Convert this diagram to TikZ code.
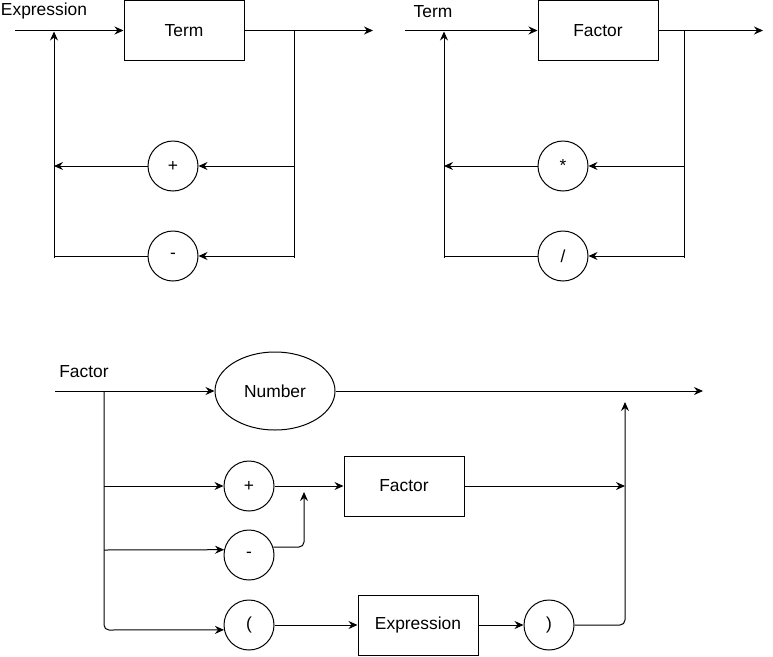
\documentclass[tikz,border=0pt]{standalone}
\usepackage{fontspec}
\setmainfont{Liberation Sans}
\usetikzlibrary{arrows.meta,shapes.geometric}
\begin{document}
\begin{tikzpicture}[x=1pt,y=-1pt,
  every node/.style={font=\fontsize{17.4}{20}\selectfont},
  box/.style={draw,line width=1pt,minimum width=120pt,minimum height=60pt,inner sep=0pt},
  term/.style={draw,circle,line width=1pt,minimum size=50pt,inner sep=0pt},
  oval/.style={draw,ellipse,line width=1pt,minimum width=120pt,minimum height=78pt,inner sep=0pt},
  lbl/.style={inner sep=0pt},
  conn/.style={line width=1pt},
  arr/.style={conn,-{Stealth[length=9pt,width=8pt,inset=3pt]}},
  rc/.style={rounded corners=5pt}]
\useasboundingbox (0,0) rectangle (773,656);

% ---------- Expression ----------
\node[lbl] (exprlbl) at (44,11) {Expression};
\coordinate (s1) at (15,30.5);
\node[box] (term) at (184,30.5) {Term};
\coordinate (e1) at (373,30.5);
\coordinate (r1t) at (294,30.5);
\coordinate (r1b) at (294,258);
\coordinate (r1p) at (294,166);
\coordinate (r1m) at (294,256);
\node[term] (plus1) at (173,166) {+};
\node[term] (minus1) at (173,256) {-};
\coordinate (l1t) at (54,31.5);
\coordinate (l1b) at (54,258);
\coordinate (l1p) at (54,166);
\coordinate (l1m) at (54,256);
\draw[arr] (s1) -- (term);
\draw[arr] (term) -- (e1);
\draw[conn] (r1t) -- (r1b);
\draw[arr] (r1p) -- (plus1);
\draw[arr] (r1m) -- (minus1);
\draw[arr] (plus1) -- (l1p);
\draw[conn] (minus1) -- (l1m);
\draw[arr] (l1b) -- (l1t);

% ---------- Term ----------
\node[lbl] (termlbl) at (433,12) {Term};
\coordinate (s2) at (405,30.5);
\node[box] (fac2) at (598,30.5) {Factor};
\coordinate (e2) at (763,30.5);
\coordinate (r2t) at (684,30.5);
\coordinate (r2b) at (684,258);
\coordinate (r2p) at (684,166);
\coordinate (r2m) at (684,256);
\node[term] (mul) at (563,166) {*};
\node[term] (divi) at (563,256) {/};
\coordinate (l2t) at (444,31.5);
\coordinate (l2b) at (444,258);
\coordinate (l2p) at (444,166);
\coordinate (l2m) at (444,256);
\draw[arr] (s2) -- (fac2);
\draw[arr] (fac2) -- (e2);
\draw[conn] (r2t) -- (r2b);
\draw[arr] (r2p) -- (mul);
\draw[arr] (r2m) -- (divi);
\draw[arr] (mul) -- (l2p);
\draw[conn] (divi) -- (l2m);
\draw[arr] (l2b) -- (l2t);

% ---------- Factor ----------
\node[lbl] (faclbl) at (84,372) {Factor};
\coordinate (s3) at (55,391);
\node[oval] (num) at (275,391) {Number};
\coordinate (e3) at (703,391);
\coordinate (lt) at (104,391);
\coordinate (lp) at (104,486);
\coordinate (lm) at (104,550);
\coordinate (lb) at (104,630);
\node[term] (plus3) at (249,486) {+};
\node[term] (minus3) at (249,555) {-};
\node[term] (lpar) at (249,625) {(};
\node[box] (fac3) at (404,486) {Factor};
\node[box] (expr3) at (418,625) {Expression};
\node[term] (rpar) at (549,625) {)};
\coordinate (mj) at (304,547);
\coordinate (mt) at (304,492);
\coordinate (rv) at (625,625);
\coordinate (rt) at (625,402);
\coordinate (rf) at (625,486);
\draw[arr] (s3) -- (num);
\draw[arr] (num) -- (e3);
\draw[arr,rc] (lt) -- (lb) -- (lpar.191.5);
\draw[arr] (lp) -- (plus3);
\draw[arr] (lm) -- (minus3.168.5);
\draw[arr] (plus3) -- (fac3);
\draw[arr,rc] (minus3.18.7) -- (mj) -- (mt);
\draw[arr] (fac3) -- (rf);
\draw[arr] (lpar) -- (expr3);
\draw[arr] (expr3) -- (rpar);
\draw[arr,rc] (rpar) -- (rv) -- (rt);
\end{tikzpicture}
\end{document}
